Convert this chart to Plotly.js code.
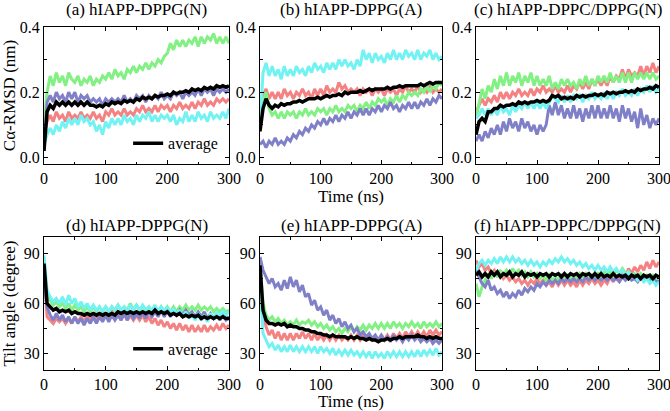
<!DOCTYPE html>
<html><head><meta charset="utf-8">
<script src="https://cdn.plot.ly/plotly-3.0.1.min.js"></script>
<style>html,body{margin:0;padding:0;background:#fff}#chart{width:670px;height:411px}</style>
</head><body><div id="chart"></div>
<script>
const t = [0,5,10,15,20,25,30,35,40,45,50,55,60,65,70,75,80,85,90,95,100,105,110,115,120,125,130,135,140,145,150,155,160,165,170,175,180,185,190,195,200,205,210,215,220,225,230,235,240,245,250,255,260,265,270,275,280,285,290,295,300];

const panelTitles = ["(a) hIAPP-DPPG(N)","(b) hIAPP-DPPG(A)","(c) hIAPP-DPPC/DPPG(N)","(d) hIAPP-DPPG(N)","(e) hIAPP-DPPG(A)","(f) hIAPP-DPPC/DPPG(N)"];
const seriesNames = ["red","green","purple","cyan","average"];

// (a) RMSD, DPPG(N)
const a_red = [0.07,0.11,0.13,0.11,0.14,0.12,0.13,0.11,0.14,0.12,0.13,0.12,0.14,0.12,0.13,0.12,0.14,0.12,0.13,0.11,0.14,0.13,0.15,0.13,0.14,0.13,0.15,0.13,0.14,0.13,0.15,0.14,0.16,0.14,0.15,0.14,0.16,0.14,0.16,0.15,0.16,0.14,0.16,0.15,0.17,0.15,0.16,0.15,0.17,0.15,0.17,0.16,0.18,0.16,0.17,0.16,0.18,0.17,0.18,0.17,0.18];
const a_green = [0.10,0.20,0.25,0.22,0.26,0.23,0.25,0.22,0.26,0.24,0.23,0.25,0.22,0.24,0.23,0.25,0.22,0.24,0.23,0.25,0.24,0.26,0.24,0.27,0.25,0.26,0.24,0.27,0.26,0.28,0.26,0.28,0.27,0.29,0.27,0.29,0.28,0.30,0.29,0.31,0.32,0.35,0.33,0.36,0.34,0.36,0.34,0.36,0.35,0.37,0.34,0.37,0.35,0.37,0.36,0.38,0.35,0.37,0.35,0.37,0.35];
const a_purple = [0.02,0.17,0.19,0.17,0.20,0.18,0.19,0.17,0.20,0.18,0.20,0.17,0.19,0.18,0.19,0.17,0.18,0.17,0.18,0.16,0.18,0.17,0.18,0.17,0.18,0.17,0.19,0.17,0.18,0.17,0.19,0.18,0.19,0.17,0.19,0.18,0.19,0.18,0.20,0.18,0.19,0.18,0.20,0.19,0.20,0.18,0.20,0.19,0.20,0.19,0.21,0.19,0.21,0.20,0.21,0.19,0.21,0.20,0.21,0.20,0.21];
const a_cyan = [0.04,0.07,0.09,0.07,0.10,0.08,0.11,0.09,0.12,0.10,0.12,0.10,0.13,0.11,0.12,0.10,0.11,0.08,0.10,0.07,0.11,0.09,0.12,0.10,0.12,0.10,0.13,0.11,0.12,0.10,0.13,0.11,0.13,0.12,0.14,0.11,0.13,0.11,0.13,0.12,0.13,0.11,0.13,0.10,0.12,0.11,0.14,0.11,0.13,0.11,0.14,0.12,0.13,0.11,0.14,0.12,0.13,0.12,0.14,0.12,0.15];
const a_avg = [0.02,0.14,0.16,0.15,0.17,0.16,0.17,0.16,0.17,0.16,0.17,0.16,0.17,0.16,0.17,0.16,0.16,0.155,0.16,0.155,0.165,0.16,0.17,0.165,0.17,0.165,0.175,0.17,0.175,0.17,0.18,0.175,0.185,0.18,0.185,0.18,0.19,0.185,0.19,0.19,0.195,0.19,0.20,0.195,0.20,0.20,0.205,0.20,0.21,0.205,0.21,0.205,0.215,0.21,0.215,0.21,0.22,0.215,0.22,0.215,0.22];

// (b) RMSD, DPPG(A)
const b_red = [0.09,0.19,0.21,0.18,0.20,0.18,0.20,0.18,0.21,0.19,0.20,0.18,0.20,0.19,0.21,0.19,0.20,0.18,0.21,0.19,0.21,0.19,0.22,0.20,0.21,0.20,0.23,0.21,0.22,0.20,0.21,0.20,0.21,0.19,0.21,0.20,0.21,0.19,0.21,0.20,0.21,0.19,0.21,0.20,0.21,0.19,0.21,0.20,0.22,0.20,0.21,0.20,0.22,0.20,0.21,0.20,0.22,0.20,0.21,0.20,0.21];
const b_green = [0.10,0.17,0.20,0.15,0.13,0.14,0.12,0.14,0.12,0.14,0.13,0.14,0.12,0.14,0.13,0.15,0.13,0.14,0.13,0.15,0.14,0.15,0.13,0.15,0.14,0.16,0.14,0.15,0.14,0.16,0.15,0.16,0.14,0.16,0.15,0.17,0.15,0.17,0.16,0.18,0.17,0.18,0.16,0.18,0.17,0.19,0.17,0.19,0.18,0.20,0.19,0.20,0.19,0.21,0.20,0.22,0.20,0.22,0.21,0.23,0.22];
const b_purple = [0.04,0.05,0.03,0.05,0.04,0.06,0.04,0.05,0.04,0.06,0.05,0.07,0.06,0.08,0.07,0.09,0.08,0.10,0.09,0.11,0.10,0.12,0.10,0.12,0.11,0.13,0.11,0.13,0.12,0.14,0.12,0.14,0.13,0.15,0.13,0.15,0.13,0.15,0.14,0.16,0.14,0.16,0.15,0.17,0.15,0.16,0.14,0.16,0.15,0.17,0.15,0.17,0.15,0.17,0.16,0.18,0.16,0.18,0.17,0.19,0.18];
const b_cyan = [0.10,0.26,0.29,0.25,0.28,0.25,0.27,0.24,0.28,0.25,0.27,0.25,0.28,0.26,0.27,0.25,0.28,0.26,0.29,0.27,0.28,0.26,0.29,0.27,0.29,0.27,0.30,0.28,0.30,0.28,0.29,0.27,0.30,0.28,0.33,0.30,0.32,0.29,0.32,0.30,0.31,0.29,0.32,0.30,0.33,0.30,0.32,0.30,0.33,0.31,0.32,0.30,0.33,0.30,0.32,0.31,0.33,0.30,0.32,0.30,0.31];
const b_avg = [0.08,0.15,0.18,0.16,0.15,0.16,0.155,0.165,0.16,0.165,0.165,0.17,0.17,0.175,0.17,0.175,0.18,0.18,0.18,0.185,0.18,0.185,0.19,0.185,0.19,0.19,0.195,0.19,0.20,0.195,0.20,0.20,0.20,0.205,0.20,0.205,0.21,0.205,0.21,0.21,0.21,0.21,0.215,0.21,0.215,0.215,0.22,0.215,0.22,0.22,0.22,0.22,0.22,0.225,0.22,0.225,0.23,0.225,0.23,0.23,0.23];

// (c) RMSD, DPPC/DPPG(N)
const c_red = [0.14,0.16,0.18,0.16,0.18,0.17,0.19,0.17,0.20,0.18,0.20,0.18,0.20,0.19,0.21,0.19,0.20,0.19,0.21,0.19,0.21,0.20,0.22,0.20,0.21,0.20,0.22,0.20,0.21,0.20,0.22,0.20,0.22,0.21,0.23,0.21,0.23,0.21,0.24,0.22,0.24,0.22,0.24,0.22,0.25,0.23,0.25,0.24,0.27,0.24,0.27,0.25,0.26,0.25,0.28,0.25,0.28,0.26,0.29,0.26,0.28];
const c_green = [0.12,0.17,0.21,0.18,0.22,0.20,0.24,0.21,0.25,0.22,0.26,0.22,0.25,0.23,0.26,0.22,0.25,0.23,0.26,0.22,0.25,0.22,0.24,0.22,0.25,0.21,0.23,0.21,0.24,0.22,0.24,0.22,0.23,0.21,0.24,0.22,0.25,0.22,0.24,0.22,0.25,0.23,0.25,0.23,0.26,0.23,0.25,0.23,0.26,0.23,0.26,0.23,0.26,0.24,0.26,0.24,0.26,0.24,0.26,0.24,0.25];
const c_purple = [0.05,0.07,0.05,0.08,0.06,0.09,0.07,0.10,0.07,0.11,0.08,0.12,0.09,0.11,0.08,0.12,0.09,0.11,0.08,0.10,0.07,0.10,0.08,0.10,0.16,0.13,0.17,0.13,0.16,0.12,0.15,0.12,0.16,0.12,0.15,0.11,0.15,0.12,0.16,0.12,0.16,0.12,0.15,0.12,0.16,0.12,0.15,0.11,0.16,0.12,0.15,0.11,0.14,0.09,0.15,0.10,0.13,0.09,0.12,0.10,0.12];
const c_cyan = [0.12,0.13,0.15,0.13,0.15,0.13,0.15,0.13,0.16,0.14,0.15,0.13,0.16,0.14,0.16,0.15,0.17,0.15,0.17,0.15,0.17,0.15,0.17,0.15,0.17,0.19,0.18,0.17,0.19,0.17,0.19,0.17,0.19,0.18,0.19,0.17,0.19,0.18,0.20,0.18,0.19,0.18,0.20,0.18,0.20,0.18,0.20,0.19,0.21,0.19,0.20,0.19,0.21,0.19,0.21,0.20,0.22,0.20,0.22,0.20,0.21];
const c_avg = [0.07,0.11,0.12,0.11,0.14,0.14,0.15,0.15,0.16,0.155,0.16,0.16,0.165,0.16,0.17,0.165,0.17,0.165,0.17,0.17,0.175,0.17,0.175,0.17,0.175,0.19,0.185,0.19,0.18,0.185,0.18,0.185,0.18,0.19,0.185,0.19,0.185,0.19,0.19,0.195,0.19,0.195,0.19,0.20,0.195,0.20,0.195,0.20,0.20,0.205,0.20,0.205,0.20,0.21,0.205,0.21,0.21,0.215,0.21,0.22,0.215];

// (d) Tilt, DPPG(N)
const d_red = [80,52,50,48,51,49,51,48,51,48,52,49,52,49,53,50,52,50,54,51,53,50,56,51,55,50,54,50,53,50,53,50,53,49,52,48,51,47,50,46,49,45,48,44,48,44,47,43,47,43,46,43,47,43,46,44,47,44,48,45,47];
const d_green = [86,64,62,59,61,58,60,57,60,56,59,56,58,55,58,55,58,55,58,55,58,55,58,56,59,56,58,56,60,56,59,56,58,56,58,55,58,55,58,55,58,55,58,55,58,56,59,56,58,56,59,56,58,56,58,55,57,55,57,55,56];
const d_purple = [74,58,53,50,54,50,53,49,52,48,52,48,51,47,51,48,52,48,52,49,53,49,53,50,53,50,54,50,54,51,54,51,55,51,55,52,55,52,56,52,56,52,56,53,56,53,56,53,55,52,55,52,55,51,54,51,54,50,53,50,52];
const d_cyan = [89,68,64,61,63,60,64,59,65,60,63,58,61,57,60,56,59,56,58,55,58,55,58,56,59,56,58,55,59,56,59,56,59,56,58,56,59,55,58,55,58,54,57,53,56,52,55,51,54,50,54,50,53,49,54,51,55,52,56,53,55];
const d_avg = [84,60,58,56,57,55,56,55,56,54,55,54,54,53,54,53,54,53,54,53,54,53,54,53,55,54,55,54,55,54,55,54,55,54,55,54,56,54,55,54,55,53,54,53,54,52,53,52,53,52,53,51,52,51,52,51,52,51,52,51,51];

// (e) Tilt, DPPG(A)
const e_red = [80,55,46,41,44,39,43,38,42,38,42,38,42,39,43,39,42,38,42,38,41,38,41,38,41,38,41,38,40,38,41,38,41,38,41,39,41,38,40,37,41,38,41,38,42,39,42,39,43,40,43,40,43,40,43,40,44,41,44,41,43];
const e_green = [85,60,53,50,52,49,51,48,50,47,49,47,50,47,49,48,50,47,49,46,48,45,47,44,46,43,45,42,45,43,46,43,46,44,47,44,47,45,48,45,48,45,48,45,49,46,48,45,48,46,49,46,48,45,49,46,48,46,49,46,48];
const e_purple = [88,80,76,72,75,70,72,68,74,69,76,70,74,67,71,64,66,59,62,56,58,53,56,50,53,48,51,46,49,45,47,43,45,41,43,40,42,39,41,38,41,38,40,37,41,38,40,37,40,38,41,38,40,37,39,37,39,36,38,36,38];
const e_cyan = [72,42,38,34,36,32,35,31,34,31,35,31,34,31,34,31,34,31,34,30,34,31,33,30,33,29,32,29,32,29,32,29,31,28,31,28,31,27,31,28,30,27,31,28,31,28,31,28,31,28,31,28,32,28,32,29,32,29,33,29,31];
const e_avg = [83,56,50,48,48,47,48,47,48,46,47,46,46,45,45,44,44,43,43,42,42,41,41,40,41,40,40,40,40,39,40,39,40,39,39,38,39,38,38,37,38,38,39,38,39,39,40,39,40,40,40,40,41,40,40,39,40,39,40,39,39];

// (f) Tilt, DPPC/DPPG(N)
const f_red = [86,82,84,80,82,78,80,77,79,75,77,74,76,73,75,72,74,71,74,72,75,72,74,71,73,70,74,71,74,71,74,71,73,70,74,71,74,72,75,72,74,71,74,72,76,73,77,74,79,76,81,78,82,79,83,80,85,81,86,82,85];
const f_green = [72,64,70,74,78,75,79,76,80,77,80,77,81,78,80,77,79,76,79,76,78,75,77,74,77,74,76,74,77,75,77,75,77,75,78,76,78,75,77,75,78,76,79,77,79,77,80,78,81,78,79,77,78,76,78,76,77,75,77,75,76];
const f_purple = [82,76,72,70,74,68,70,66,68,64,67,63,66,64,68,65,69,67,70,68,72,70,73,71,74,72,74,72,75,73,75,73,75,73,75,73,76,74,76,74,76,74,76,74,76,74,75,73,76,74,76,74,75,73,76,74,75,73,75,73,74];
const f_cyan = [80,84,86,83,86,84,87,84,88,85,88,85,88,85,87,84,86,83,86,83,85,82,85,83,86,84,87,85,88,85,87,84,86,83,85,82,84,81,83,80,83,80,82,79,82,79,81,78,80,77,79,76,77,74,76,73,75,72,74,71,73];
const f_avg = [77,79,76,78,76,79,77,79,76,78,77,79,76,78,77,79,76,78,77,78,76,78,77,78,76,78,77,78,76,78,76,78,77,78,76,78,77,78,76,78,76,78,76,77,76,78,76,77,76,77,75,77,76,77,75,77,76,77,75,77,76];

const panels = [
  [a_red,a_green,a_purple,a_cyan,a_avg],
  [b_red,b_green,b_purple,b_cyan,b_avg],
  [c_red,c_green,c_purple,c_cyan,c_avg],
  [d_red,d_green,d_purple,d_cyan,d_avg],
  [e_red,e_green,e_purple,e_cyan,e_avg],
  [f_red,f_green,f_purple,f_cyan,f_avg]
];
const colors = ["#f58282","#82f082","#8080c8","#72f2f2","#000000"];

const traces = [];
panels.forEach((p, i) => {
  const ax = i === 0 ? "" : String(i + 1);
  p.forEach((ys, k) => {
    const isAvg = k === 4;
    const tr = {
      x: t, y: ys, type: "scatter", mode: "lines",
      xaxis: "x" + ax, yaxis: "y" + ax,
      name: seriesNames[k],
      line: {color: colors[k], width: isAvg ? 3.5 : 3},
      showlegend: false, hoverinfo: "skip"
    };
    if (isAvg && i === 0) { tr.showlegend = true; tr.legend = "legend"; }
    if (isAvg && i === 3) { tr.showlegend = true; tr.legend = "legend2"; }
    traces.push(tr);
  });
});

const W = 670, H = 411;
const xdom = [[44/W, 229/W],[260/W, 442/W],[476/W, 659/W]];
const ydom = [[1-164/H, 1-27/H],[1-370/H, 1-237/H]];
const FAM = '"Liberation Serif"';
const font = {family: FAM, size: 14, color: "#000"};

const layout = {
  width: W, height: H, margin: {l:0, r:0, t:0, b:0},
  paper_bgcolor: "#fff", plot_bgcolor: "#fff",
  font: font,
  annotations: [],
  legend: {x: 0.333, y: 0.61, xanchor: "right", yanchor: "bottom", bgcolor: "rgba(0,0,0,0)",
           font: {family: FAM, size: 16, color: "#000"}, itemwidth: 30, tracegroupgap: 0},
  legend2: {x: 0.333, y: 0.11, xanchor: "right", yanchor: "bottom", bgcolor: "rgba(0,0,0,0)",
           font: {family: FAM, size: 16, color: "#000"}, itemwidth: 30, tracegroupgap: 0}
};

for (let i = 0; i < 6; i++) {
  const ax = i === 0 ? "" : String(i + 1);
  const col = i % 3, row = Math.floor(i / 3);
  const top = row === 0;
  layout["xaxis" + ax] = {
    domain: xdom[col], anchor: "y" + ax, range: [0, 300],
    tickvals: [0, 100, 200, 300], ticks: "inside", ticklen: 4, tickcolor: "#000",
    minor: {tickvals: [50, 150, 250], ticks: "inside", ticklen: 2.5, tickcolor: "#000"},
    showline: true, linecolor: "#000", linewidth: 1, mirror: "allticks",
    ticklabeloverflow: "allow",
    showgrid: false, zeroline: false, tickfont: {family: FAM, size: 16, color: "#000"},
    title: (col === 1) ? {text: "Time (ns)", font: {family: FAM, size: 17, color: "#000"}, standoff: 2} : {text: ""}
  };
  layout["yaxis" + ax] = {
    domain: ydom[row], anchor: "x" + ax,
    range: top ? [-0.02, 0.4] : [20, 100],
    tickvals: top ? [0, 0.2, 0.4] : [30, 60, 90],
    tickformat: top ? ".1f" : "d",
    ticks: "inside", ticklen: 4, tickcolor: "#000",
    minor: {tickvals: top ? [0.1, 0.3] : [45, 75], ticks: "inside", ticklen: 2.5, tickcolor: "#000"},
    showline: true, linecolor: "#000", linewidth: 1, mirror: "allticks",
    showgrid: false, zeroline: false, tickfont: {family: FAM, size: 16, color: "#000"},
    title: (col === 0) ? {text: top ? "Cα-RMSD (nm)" : "Tilt angle (degree)", font: {family: FAM, size: 17, color: "#000"}, standoff: 4} : {text: ""}
  };
  layout.annotations.push({
    text: panelTitles[i], xref: "paper", yref: "paper",
    x: (xdom[col][0] + xdom[col][1]) / 2, y: top ? 1 - 10/H : 1 - 225/H,
    xanchor: "center", yanchor: "middle", showarrow: false,
    font: {family: FAM, size: 17, color: "#000"}
  });
}

Plotly.newPlot("chart", traces, layout, {displayModeBar: false, staticPlot: true});
</script></body></html>
